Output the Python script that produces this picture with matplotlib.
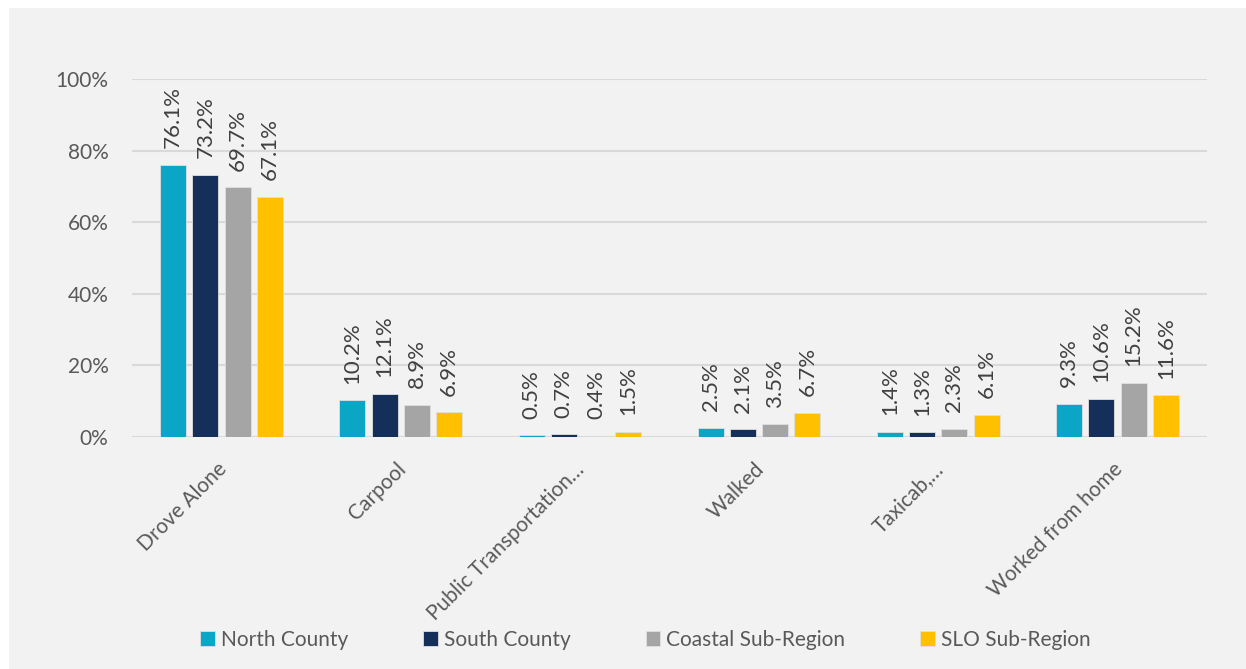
import matplotlib.pyplot as plt
from matplotlib.patches import Rectangle
import numpy as np

plt.rcParams.update({
    "font.family": ["Lato", "DejaVu Sans"],
    "font.size": 15,
    "text.color": "#595959",
})

categories = ["Drove Alone", "Carpool", "Public Transportation\u2026", "Walked",
              "Taxicab,\u2026", "Worked from home"]
series_names = ["North County", "South County", "Coastal Sub-Region", "SLO Sub-Region"]
north_county = [76.1, 10.2, 0.5, 2.5, 1.4, 9.3]
south_county = [73.2, 12.1, 0.7, 2.1, 1.3, 10.6]
coastal = [69.7, 8.9, 0.4, 3.5, 2.3, 15.2]
slo = [67.1, 6.9, 1.5, 6.7, 6.1, 11.6]
colors = ["#0BA5C6", "#14305A", "#A5A5A5", "#FFC000"]

series = [north_county, south_county, coastal, slo]

fig = plt.figure(figsize=(12.46, 6.69), dpi=100)
fig.patch.set_facecolor("white")
fig.patches.append(Rectangle((9 / 1246, 0), 1, 1 - 8 / 669, transform=fig.transFigure,
                             facecolor="#F2F2F2", edgecolor="none", zorder=-10))

ax = fig.add_axes([132 / 1246, 1 - 437 / 669, (1207 - 132) / 1246, (437 - 79) / 669])
ax.set_facecolor("none")

x = np.arange(len(categories))
width = 0.145
step = 0.18
for i, (vals, name, c) in enumerate(zip(series, series_names, colors)):
    pos = x + (i - 1.5) * step
    bars = ax.bar(pos, vals, width, color=c, label=name, edgecolor="#E0E0E0",
                  linewidth=0.6, zorder=3)
    for b, v in zip(bars, vals):
        ax.annotate(f"{v:.1f}%", (b.get_x() + b.get_width() / 2, v),
                    xytext=(0, 12), textcoords="offset points",
                    rotation=90, ha="center", va="bottom", fontsize=16,
                    color="#404040")

ax.set_xlim(-0.5, len(categories) - 0.5)
ax.set_ylim(0, 100)
ax.set_yticks(np.arange(0, 101, 20))
ax.set_yticklabels([f"{t}%" for t in range(0, 101, 20)])
ax.yaxis.grid(True, color="#D9D9D9", linewidth=1.5, zorder=0)
ax.set_axisbelow(True)
for s in ax.spines.values():
    s.set_visible(False)
ax.tick_params(axis="y", length=0, pad=17, labelsize=15, labelcolor="#595959")
ax.tick_params(axis="x", length=0, pad=16, labelsize=15, labelcolor="#595959")
ax.set_xticks(x - 0.03)
ax.set_xticklabels(categories, rotation=45, ha="right", rotation_mode="anchor")

fig.legend(loc="center", bbox_to_anchor=(0.518, 1 - 640 / 669), ncol=4,
           frameon=False, fontsize=15, handlelength=0.7, handleheight=0.7,
           columnspacing=3.6, handletextpad=0.3, labelcolor="#595959")

fig.savefig("out.png", dpi=100, facecolor=fig.get_facecolor())
